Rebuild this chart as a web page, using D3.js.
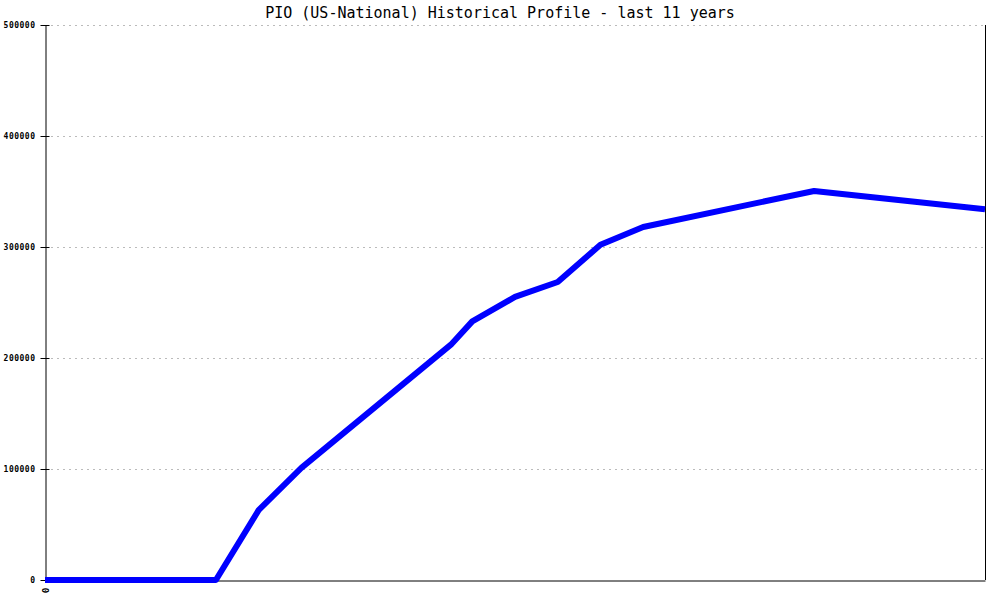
<!DOCTYPE html>
<html><head><meta charset="utf-8">
<script src="https://cdn.jsdelivr.net/npm/d3@7"></script>
<style>body{margin:0;background:#fff}svg{display:block}</style>
</head><body>
<script>
const titleText = "PIO (US-National) Historical Profile - last 11 years";
const months = [0, 6, 12, 18, 24, 30, 36, 57, 60, 66, 72, 78, 84, 108, 132];
const values = [0, 0, 0, 0, 0, 63000, 101000, 212000, 233000, 255000, 268500, 302000, 318000, 350500, 334000];
const yTicks = [0, 100000, 200000, 300000, 400000, 500000];
const xTickLabels = ["0"];

const W = 1000, H = 600;
const L = 45, R = 985, T = 25, B = 580;
const svg = d3.select("body").append("svg").attr("width", W).attr("height", H);
const x = d3.scaleLinear().domain([0, 132]).range([L, R]);
const y = d3.scaleLinear().domain([0, 500000]).range([B, T]);
const font = "'DejaVu Sans Mono', monospace";

// grid
svg.append("g").selectAll("line").data(yTicks.slice(1)).join("line")
  .attr("x1", L).attr("x2", R).attr("y1", d => y(d) + 0.5).attr("y2", d => y(d) + 0.5)
  .attr("stroke", "#bbb").attr("stroke-dasharray", "2,4");

// y axis
const ya = svg.append("g").attr("transform", `translate(${L + 0.5},0)`)
  .call(d3.axisLeft(y).tickValues(yTicks).tickFormat(d3.format("d")).tickSize(5).tickSizeOuter(0));
ya.select(".domain").attr("stroke", "#000");
ya.selectAll(".tick line").attr("x2", 4).attr("x1", -5).attr("stroke", "#000");
ya.selectAll(".tick text").attr("font-family", font).attr("font-size", 8).attr("font-weight", "bold")
  .attr("letter-spacing", 0.5).attr("x", -10).attr("fill", "#000");

// right border
svg.append("line").attr("x1", R + 0.5).attr("x2", R + 0.5).attr("y1", T).attr("y2", B).attr("stroke", "#000");

// x axis
const xa = svg.append("g").attr("transform", `translate(0,${B + 0.5})`)
  .call(d3.axisBottom(x).tickValues([0]).tickFormat((d, i) => xTickLabels[i]).tickSize(0).tickSizeOuter(0));
xa.select(".domain").attr("stroke", "#000");
xa.selectAll(".tick text").attr("font-family", font).attr("font-size", 9).attr("font-weight", "bold")
  .attr("transform", "rotate(90)").attr("y", 0).attr("x", 10).attr("dy", "0.35em").attr("dx", 0).attr("text-anchor", "middle");

// line
const line = d3.line().x((d, i) => x(months[i])).y(d => y(d));
svg.append("path").datum(values).attr("d", line).attr("fill", "none")
  .attr("stroke", "#0000ff").attr("stroke-width", 6).attr("stroke-linejoin", "round");

// title
svg.append("text").attr("x", 500).attr("y", 18).attr("text-anchor", "middle")
  .attr("font-family", font).attr("font-size", 15).attr("fill", "#000").text(titleText);
</script>
</body></html>
